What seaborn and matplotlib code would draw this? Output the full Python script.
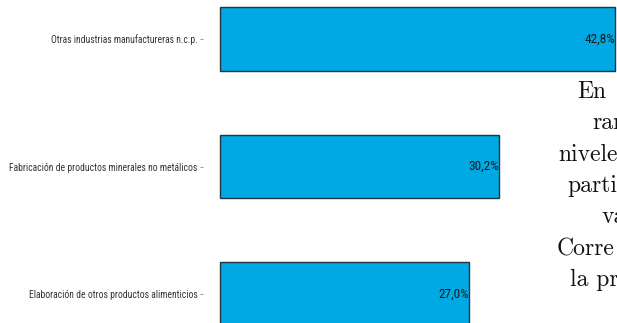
import numpy as np
import pandas as pd
import matplotlib
matplotlib.use("Agg")
import matplotlib.pyplot as plt
from matplotlib import font_manager
import seaborn as sns

# Data
categorias = ["Otras industrias manufactureras n.c.p.",
              "Fabricación de productos minerales no metálicos",
              "Elaboración de otros productos alimenticios"]
valores = [42.8, 30.2, 27.0]
etiquetas = ["42,8%", "30,2%", "27,0%"]

# Text of the page that overlaps the figure on the right
texto_lineas = ["En", "ran", "nivele", "parti", "va", "Corre", "la pr"]
texto_x = [577, 592, 558, 567, 602, 557, 570]
texto_base = [98, 129, 161, 192, 223, 255, 286]

df = pd.DataFrame({"categoria": categorias, "valor": valores})

# pick a narrow font if one is installed
nombres = {f.name for f in font_manager.fontManager.ttflist}
fuente, tam, tam_val = "Liberation Sans", 6.0, 8.2
for cand in ["Liberation Sans Narrow", "Arial Narrow", "Roboto Condensed"]:
    if cand in nombres:
        fuente, tam, tam_val = cand, 6.95, 9.5
        break

sns.set_style("white")
plt.rcParams["font.family"] = [fuente, "DejaVu Sans"]

W, H = 617, 323
fig = plt.figure(figsize=(W / 100, H / 100), dpi=100)
ax = fig.add_axes([203 / W, 0, 1 - 203 / W, 1])

sns.barplot(data=df, y="categoria", x="valor", orient="h", color="#00a9e3",
            saturation=1, width=0.5, edgecolor="#223344", linewidth=1.0, ax=ax)

ax.set_xlim(-1.85, 42.97)
ax.set_ylim(2.227, -0.306)

for i, (v, t) in enumerate(zip(valores, etiquetas)):
    ax.text(v - 0.05, i, t, ha="right", va="center", fontsize=tam_val, color="#1a1a1a")

sns.despine(ax=ax, left=True, bottom=True, top=True, right=True)
ax.set_xlabel("")
ax.set_ylabel("")
ax.set_xticks([])
ax.tick_params(axis="y", length=2.5, width=0.6, color="#888888", pad=1.5,
               labelsize=tam, labelcolor="#333333", left=True)

for t, x, y in zip(texto_lineas, texto_x, texto_base):
    fig.text(x / W, 1 - y / H, t, fontsize=17, family="cmr10",
             ha="left", va="baseline", color="#111111")

fig.savefig("out.png", dpi=100)
